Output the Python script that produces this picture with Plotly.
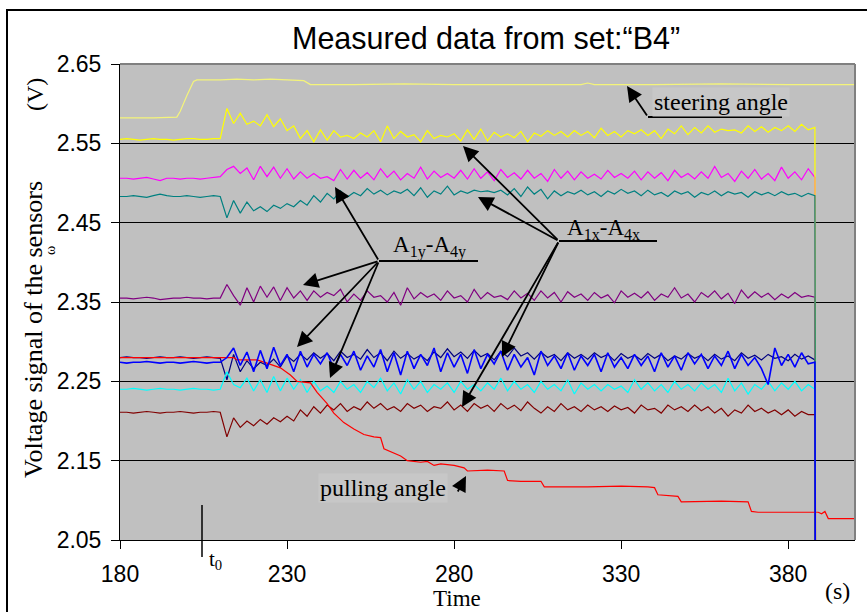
import plotly.graph_objects as go

# ---------------- data ----------------
time_s = list(range(180, 390, 2))          # sensor sampling times 180..388 s
t_off = 389.0                               # sensors switched off
v_off = 0.0

steer_t = [180, 190, 197, 198, 200, 202, 203, 210, 215, 220, 225, 230, 235, 237,
           250, 265, 280, 300, 318, 320, 322, 340, 360, 380, 390, 401]
steer_v = [2.582, 2.582, 2.583, 2.590, 2.610, 2.628, 2.630, 2.630, 2.631, 2.630, 2.631,
           2.630, 2.629, 2.624, 2.624, 2.625, 2.624, 2.624, 2.624, 2.626, 2.624, 2.624,
           2.625, 2.624, 2.624, 2.624]

pull_t = [180, 200, 214, 215, 221, 224, 228, 231, 233, 235, 237, 239, 242, 244, 247,
          250, 253, 256, 258, 259, 262, 264, 266, 268, 270, 272, 274, 276, 280, 283,
          284, 290, 295, 296, 300, 306, 307, 320, 330, 338, 340, 341, 345, 347, 348,
          360, 368, 369, 371, 380, 389, 390, 391, 392, 393, 401]
pull_v = [2.280, 2.280, 2.280, 2.277, 2.277, 2.273, 2.267, 2.258, 2.250, 2.249, 2.248,
          2.236, 2.222, 2.210, 2.198, 2.190, 2.183, 2.180, 2.179, 2.165, 2.160, 2.156,
          2.150, 2.149, 2.148, 2.149, 2.144, 2.146, 2.144, 2.141, 2.137, 2.138, 2.137,
          2.125, 2.124, 2.124, 2.117, 2.117, 2.118, 2.117, 2.116, 2.107, 2.106, 2.105,
          2.098, 2.099, 2.098, 2.086, 2.085, 2.085, 2.085, 2.083, 2.086, 2.077, 2.077,
          2.077]

yellow_v = [2.555, 2.556, 2.555, 2.554, 2.555, 2.556, 2.555, 2.555, 2.554, 2.555, 2.556, 2.556, 2.555, 2.555, 2.556, 2.556,
            2.594, 2.575, 2.588, 2.574, 2.578, 2.572, 2.586, 2.571, 2.581, 2.566,
            2.572, 2.556, 2.566, 2.552, 2.567, 2.554, 2.566, 2.558, 2.560, 2.556,
            2.563, 2.558, 2.566, 2.552, 2.572, 2.556, 2.565, 2.558, 2.561, 2.552,
            2.566, 2.556, 2.560, 2.558, 2.562, 2.553, 2.567, 2.555, 2.568, 2.553,
            2.564, 2.558, 2.562, 2.557, 2.565, 2.552, 2.563, 2.559, 2.566, 2.560,
            2.565, 2.558, 2.566, 2.560, 2.565, 2.557, 2.569, 2.560, 2.565, 2.558,
            2.566, 2.562, 2.567, 2.560, 2.566, 2.556, 2.568, 2.562, 2.572, 2.561,
            2.570, 2.563, 2.572, 2.564, 2.568, 2.566, 2.567, 2.563, 2.572, 2.565,
            2.571, 2.564, 2.570, 2.566, 2.572, 2.565, 2.574, 2.567, 2.570]

magenta_v = [2.506, 2.506, 2.505, 2.506, 2.507, 2.505, 2.503, 2.506, 2.506, 2.505, 2.506, 2.506, 2.505, 2.506, 2.507, 2.508,
             2.517, 2.521, 2.512, 2.519, 2.504, 2.521, 2.508, 2.520, 2.506, 2.518,
             2.505, 2.514, 2.506, 2.512, 2.506, 2.508, 2.503, 2.517, 2.505, 2.516,
             2.506, 2.513, 2.504, 2.518, 2.507, 2.515, 2.504, 2.512, 2.506, 2.520,
             2.505, 2.515, 2.507, 2.512, 2.506, 2.516, 2.505, 2.518, 2.506, 2.514,
             2.503, 2.517, 2.507, 2.513, 2.505, 2.516, 2.506, 2.512, 2.502, 2.517,
             2.506, 2.515, 2.504, 2.514, 2.506, 2.511, 2.505, 2.516, 2.507, 2.512,
             2.506, 2.515, 2.504, 2.514, 2.506, 2.513, 2.503, 2.516, 2.507, 2.512,
             2.505, 2.514, 2.506, 2.521, 2.507, 2.512, 2.502, 2.515, 2.506, 2.517,
             2.505, 2.512, 2.503, 2.520, 2.506, 2.514, 2.504, 2.518, 2.507]

teal_v = [2.483, 2.483, 2.484, 2.483, 2.482, 2.484, 2.486, 2.484, 2.483, 2.483, 2.484, 2.483, 2.482, 2.483, 2.484, 2.483,
          2.456, 2.478, 2.462, 2.476, 2.465, 2.470, 2.464, 2.472, 2.468, 2.474,
          2.470, 2.478, 2.472, 2.484, 2.476, 2.487, 2.480, 2.490, 2.482, 2.488,
          2.484, 2.493, 2.486, 2.491, 2.485, 2.490, 2.487, 2.492, 2.484, 2.494,
          2.482, 2.490, 2.486, 2.496, 2.485, 2.490, 2.487, 2.491, 2.489, 2.490,
          2.488, 2.491, 2.485, 2.493, 2.483, 2.495, 2.486, 2.492, 2.480, 2.490,
          2.484, 2.489, 2.486, 2.491, 2.485, 2.489, 2.483, 2.490, 2.486, 2.492,
          2.487, 2.490, 2.484, 2.491, 2.485, 2.488, 2.483, 2.490, 2.486, 2.489,
          2.482, 2.488, 2.485, 2.490, 2.484, 2.489, 2.486, 2.488, 2.482, 2.489,
          2.485, 2.488, 2.484, 2.489, 2.485, 2.487, 2.483, 2.487, 2.484]

purple_v = [2.355, 2.355, 2.354, 2.355, 2.356, 2.355, 2.353, 2.354, 2.355, 2.355, 2.356, 2.355, 2.355, 2.354, 2.355, 2.355,
            2.372, 2.358, 2.346, 2.368, 2.350, 2.370, 2.356, 2.369, 2.352, 2.368,
            2.355, 2.364, 2.352, 2.364, 2.356, 2.362, 2.358, 2.366, 2.350, 2.360,
            2.352, 2.364, 2.356, 2.358, 2.350, 2.362, 2.346, 2.368, 2.354, 2.362,
            2.356, 2.360, 2.352, 2.364, 2.355, 2.358, 2.350, 2.366, 2.354, 2.362,
            2.356, 2.358, 2.353, 2.364, 2.355, 2.361, 2.352, 2.364, 2.355, 2.362,
            2.350, 2.363, 2.356, 2.360, 2.352, 2.362, 2.355, 2.359, 2.349, 2.364,
            2.356, 2.361, 2.355, 2.363, 2.352, 2.360, 2.356, 2.368, 2.355, 2.360,
            2.350, 2.362, 2.356, 2.364, 2.354, 2.361, 2.348, 2.365, 2.355, 2.363,
            2.356, 2.361, 2.353, 2.360, 2.355, 2.362, 2.356, 2.358, 2.356]

navy_v = [2.280, 2.281, 2.280, 2.280, 2.279, 2.280, 2.281, 2.280, 2.280, 2.281, 2.280, 2.279, 2.280, 2.281, 2.280, 2.279,
          2.252, 2.284, 2.262, 2.276, 2.266, 2.274, 2.270, 2.278, 2.268, 2.282,
          2.275, 2.284, 2.277, 2.286, 2.279, 2.285, 2.276, 2.288, 2.280, 2.284,
          2.278, 2.290, 2.280, 2.286, 2.276, 2.288, 2.279, 2.285, 2.278, 2.283,
          2.276, 2.287, 2.280, 2.291, 2.281, 2.287, 2.279, 2.289, 2.281, 2.285,
          2.277, 2.288, 2.281, 2.292, 2.282, 2.286, 2.278, 2.287, 2.280, 2.284,
          2.276, 2.286, 2.279, 2.284, 2.278, 2.286, 2.280, 2.284, 2.276, 2.285,
          2.279, 2.283, 2.277, 2.285, 2.279, 2.284, 2.276, 2.282, 2.278, 2.285,
          2.279, 2.283, 2.276, 2.284, 2.278, 2.282, 2.276, 2.286, 2.279, 2.283,
          2.277, 2.284, 2.279, 2.281, 2.276, 2.284, 2.278, 2.282, 2.277]

blue_v = [2.274, 2.273, 2.274, 2.274, 2.275, 2.274, 2.273, 2.274, 2.274, 2.273, 2.274, 2.275, 2.274, 2.273, 2.274, 2.274,
          2.280, 2.292, 2.270, 2.287, 2.262, 2.289, 2.266, 2.293, 2.270, 2.284,
          2.262, 2.288, 2.268, 2.284, 2.272, 2.286, 2.266, 2.284, 2.270, 2.288,
          2.264, 2.282, 2.268, 2.290, 2.262, 2.286, 2.258, 2.288, 2.266, 2.284,
          2.270, 2.292, 2.262, 2.286, 2.268, 2.284, 2.260, 2.290, 2.266, 2.284,
          2.272, 2.288, 2.264, 2.284, 2.268, 2.280, 2.258, 2.288, 2.270, 2.282,
          2.266, 2.286, 2.264, 2.282, 2.270, 2.284, 2.262, 2.286, 2.268, 2.280,
          2.266, 2.284, 2.270, 2.282, 2.262, 2.286, 2.268, 2.282, 2.264, 2.286,
          2.272, 2.284, 2.266, 2.282, 2.270, 2.288, 2.266, 2.284, 2.270, 2.280,
          2.266, 2.246, 2.292, 2.270, 2.284, 2.268, 2.286, 2.272, 2.274]

cyan_v = [2.240, 2.240, 2.241, 2.240, 2.239, 2.240, 2.241, 2.240, 2.240, 2.239, 2.240, 2.241, 2.240, 2.240, 2.239, 2.240,
          2.262, 2.246, 2.242, 2.254, 2.238, 2.252, 2.236, 2.256, 2.238, 2.254,
          2.240, 2.252, 2.236, 2.250, 2.238, 2.244, 2.236, 2.250, 2.240, 2.246,
          2.236, 2.250, 2.242, 2.254, 2.238, 2.248, 2.234, 2.252, 2.240, 2.250,
          2.236, 2.246, 2.240, 2.248, 2.236, 2.250, 2.240, 2.246, 2.238, 2.248,
          2.240, 2.254, 2.238, 2.250, 2.240, 2.246, 2.236, 2.250, 2.240, 2.246,
          2.238, 2.252, 2.234, 2.248, 2.240, 2.246, 2.238, 2.246, 2.240, 2.244,
          2.236, 2.252, 2.240, 2.248, 2.238, 2.246, 2.236, 2.250, 2.240, 2.246,
          2.238, 2.248, 2.240, 2.246, 2.236, 2.254, 2.238, 2.248, 2.234, 2.246,
          2.240, 2.250, 2.238, 2.248, 2.240, 2.250, 2.238, 2.246, 2.240]

brown_v = [2.211, 2.211, 2.210, 2.211, 2.212, 2.211, 2.210, 2.211, 2.211, 2.212, 2.211, 2.210, 2.211, 2.211, 2.212, 2.211,
           2.180, 2.204, 2.192, 2.200, 2.194, 2.202, 2.196, 2.204, 2.199, 2.206,
           2.200, 2.214, 2.206, 2.218, 2.210, 2.220, 2.214, 2.222, 2.212, 2.218,
           2.214, 2.224, 2.216, 2.222, 2.214, 2.218, 2.212, 2.222, 2.216, 2.220,
           2.212, 2.218, 2.216, 2.224, 2.214, 2.220, 2.212, 2.222, 2.216, 2.220,
           2.212, 2.222, 2.215, 2.220, 2.213, 2.224, 2.216, 2.210, 2.218, 2.212,
           2.222, 2.214, 2.218, 2.212, 2.220, 2.214, 2.218, 2.212, 2.219, 2.214,
           2.217, 2.210, 2.220, 2.214, 2.216, 2.210, 2.220, 2.214, 2.218, 2.212,
           2.220, 2.213, 2.218, 2.210, 2.216, 2.206, 2.214, 2.210, 2.220, 2.212,
           2.216, 2.210, 2.214, 2.208, 2.214, 2.206, 2.212, 2.208, 2.208]

y_ticks = [2.05, 2.15, 2.25, 2.35, 2.45, 2.55, 2.65]
y_tick_text = ["2.05", "2.15", "2.25", "2.35", "2.45", "2.55", "2.65"]
x_ticks = [180, 230, 280, 330, 380]

for name, s in [("yellow", yellow_v), ("magenta", magenta_v), ("teal", teal_v),
                ("purple", purple_v), ("navy", navy_v), ("blue", blue_v),
                ("cyan", cyan_v), ("brown", brown_v)]:
    assert len(s) == len(time_s), (name, len(s), len(time_s))

# ---------------- layout geometry (pixels) ----------------
W, H = 867, 612
L, R, T, B = 120, 855, 64, 540


def px(x):
    return (x - L) / (R - L)


def py(y):
    return (B - y) / (B - T)


SERIF = "Liberation Serif, Times New Roman, serif"
SANS = "Liberation Sans, Arial, sans-serif"

fig = go.Figure()

sensor_t = time_s + [t_off]


def add_line(x, y, color, w=1.2):
    fig.add_trace(go.Scatter(x=x, y=y, mode="lines", line=dict(color=color, width=w),
                             hoverinfo="skip", showlegend=False))


add_line(steer_t, steer_v, "#F4F47A")
add_line(sensor_t, magenta_v + [v_off], "#FF00FF")
add_line(sensor_t, purple_v + [v_off], "#800080")
add_line(sensor_t, navy_v + [v_off], "#000080")
add_line(sensor_t, cyan_v + [v_off], "#00FFFF")
add_line(sensor_t, brown_v + [v_off], "#800000")
add_line(pull_t, pull_v, "#FF0000")
add_line(sensor_t, yellow_v + [v_off], "#FFFF00")
add_line(sensor_t, teal_v + [v_off], "#008080")
add_line(sensor_t, blue_v + [v_off], "#0000FF", 1.6)

annotations = []
shapes = []


def arrow(head, tail):
    annotations.append(dict(
        x=px(head[0]), y=py(head[1]), xref="paper", yref="paper",
        ax=tail[0] - head[0], ay=tail[1] - head[1], axref="pixel", ayref="pixel",
        text="", showarrow=True, arrowhead=2, arrowsize=1.7, arrowwidth=1.8,
        arrowcolor="black", standoff=0, startstandoff=0))


def hline(x0, x1, y, color="black", w=2):
    shapes.append(dict(type="line", xref="paper", yref="paper",
                       x0=px(x0), x1=px(x1), y0=py(y), y1=py(y),
                       line=dict(color=color, width=w)))


def label(x, y, text, size, font=SERIF, angle=0, bg=None, xanchor="center"):
    d = dict(x=px(x), y=py(y), xref="paper", yref="paper", text=text, showarrow=False,
             font=dict(family=font, size=size, color="black"), textangle=angle,
             xanchor=xanchor, yanchor="middle")
    if bg:
        d["bgcolor"] = bg
        d["borderpad"] = 1
    annotations.append(d)


# steering angle
label(721, 102, "steering angle", 24, bg="#C7C7C7")
hline(648, 782, 117)
arrow((627, 86), (648, 117))

# A1x - A4x
label(603, 229, "A<sub>1x</sub>-A<sub>4x</sub>", 23)
hline(559, 657, 241)
for h in [(463, 146), (478, 197), (502, 357), (462, 407)]:
    arrow(h, (559, 241))

# A1y - A4y
label(429, 247, "A<sub>1y</sub>-A<sub>4y</sub>", 23)
hline(379, 478, 261)
for h in [(335, 187), (303, 285), (297, 347), (330, 378)]:
    arrow(h, (379, 261))

# pulling angle
label(383, 488, "pulling angle", 24, bg="#C7C7C7")
arrow((466, 476), (457, 493))

# t0 marker
shapes.append(dict(type="line", xref="paper", yref="paper", x0=px(202), x1=px(202),
                   y0=py(505), y1=py(557), line=dict(color="black", width=1.5)))
label(207, 560, "t<sub>0</sub>", 21, xanchor="left")

# axis titles
label(457, 598, "Time", 23)
label(837, 591, "(s)", 24)
label(33, 330, "Voltage signal of the sensors", 26, angle=-90)
label(35, 95, "(V)", 24, angle=-90)
label(50, 251, "ω", 14, angle=-90)

# title
annotations.append(dict(x=px(486), y=py(38), xref="paper", yref="paper",
                        text="Measured data from set:\u201cB4\u201d", showarrow=False,
                        font=dict(family=SANS, size=30.5, color="black"),
                        xanchor="center", yanchor="middle"))

# plot-area border (top/right grey) and outer black frame
shapes.append(dict(type="line", xref="paper", yref="paper", x0=0, x1=1, y0=1, y1=1,
                   line=dict(color="#808080", width=2)))
shapes.append(dict(type="line", xref="paper", yref="paper", x0=1, x1=1, y0=0, y1=1,
                   line=dict(color="#808080", width=2)))
shapes.append(dict(type="rect", xref="paper", yref="paper",
                   x0=px(7), x1=px(875), y0=py(625), y1=py(10),
                   line=dict(color="black", width=2), fillcolor="rgba(0,0,0,0)"))

fig.update_layout(
    width=W, height=H,
    margin=dict(l=L, r=W - R, t=T, b=H - B),
    paper_bgcolor="white", plot_bgcolor="#C0C0C0",
    showlegend=False,
    annotations=annotations, shapes=shapes,
    xaxis=dict(range=[180, 400], tickvals=x_ticks, ticks="outside", ticklen=8,
               tickcolor="black", tickwidth=1, showline=True, linecolor="black",
               linewidth=1, showgrid=False, zeroline=False, ticklabelstandoff=5,
               tickfont=dict(family=SANS, size=23, color="black")),
    yaxis=dict(range=[2.05, 2.65], tickvals=y_ticks, ticktext=y_tick_text,
               ticks="outside", ticklen=8, tickcolor="black", tickwidth=1,
               showline=True, linecolor="black", linewidth=1,
               showgrid=True, gridcolor="black", gridwidth=1, zeroline=False,
               ticklabelstandoff=5,
               tickfont=dict(family=SANS, size=23, color="black")),
)

fig.write_html("out.html",
               config={"displayModeBar": False},
               post_script="document.body.style.margin='0px';"
                           "document.body.style.overflow='hidden';")
